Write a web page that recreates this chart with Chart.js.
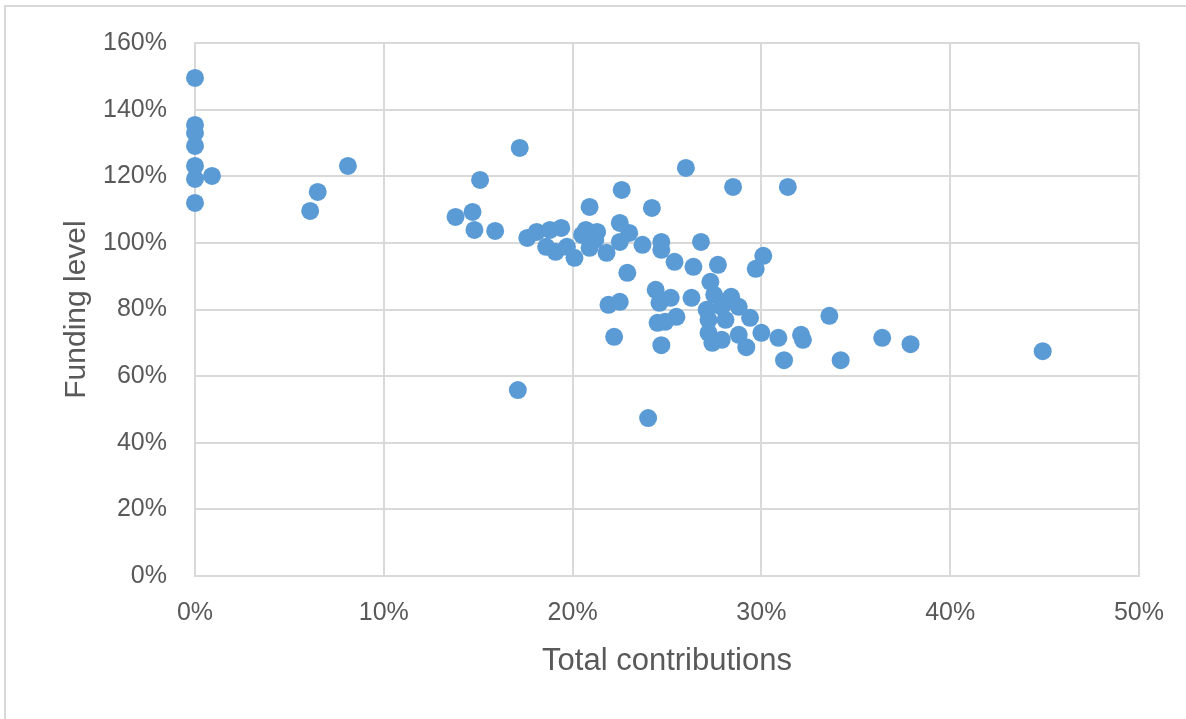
<!DOCTYPE html>
<html>
<head>
<meta charset="utf-8">
<script src="https://cdn.jsdelivr.net/npm/chart.js@4.4.1/dist/chart.umd.min.js"></script>
<style>
  html, body { margin: 0; padding: 0; background: #ffffff; }
  #wrap { position: relative; width: 1186px; height: 719px; overflow: hidden; }
  #marco { position: absolute; left: 4px; top: 5px; width: 1200px; height: 720px;
           border-top: 2px solid #d9d9d9; border-left: 2px solid #d9d9d9; }
  canvas { position: absolute; left: 0; top: 0; }
</style>
</head>
<body>
<div id="wrap">
  <div id="marco"></div>
  <canvas id="grafico" width="1186" height="719"></canvas>
</div>
<script>
// Total contributions (%) por plan
const contribuciones = [
  0, 0, 0, 0, 0, 0, 0, 0.9, 6.1, 6.5, 8.1,
  13.8, 14.7, 14.8, 15.1, 15.9, 17.2, 17.1,
  17.6, 18.1, 18.8, 19.4, 18.6, 19.1, 19.7, 20.1, 20.5, 20.7, 21.3, 20.9, 21.2, 21.8,
  22.5, 22.5, 22.9, 20.9, 22.6, 24.2, 23.0, 23.7, 24.7, 24.7, 26.8,
  25.4, 26.4, 27.7, 21.9, 22.5, 24.4, 25.2, 24.6, 26.3, 24.5, 24.9, 25.5, 22.2, 24.7, 24.0, 26.0,
  27.3, 27.5, 28.4, 27.1, 27.9, 28.8, 29.4, 27.2, 28.1, 27.2, 27.9, 28.8, 29.2, 30.0, 30.9, 27.4,
  28.5, 29.7, 30.1, 31.2, 31.4, 32.1, 32.2, 33.6, 34.2, 36.4, 37.9, 44.9
];

// Funding level (%) por plan
const nivelFinanciacion = [
  149.5, 135.4, 133, 129.1, 123.1, 119.2, 112, 120.1, 109.6, 115.3, 123.1,
  107.8, 109.3, 103.9, 118.9, 103.6, 128.5, 55.8,
  101.5, 103.3, 103.9, 104.5, 98.8, 97.3, 98.8, 95.5, 102.4, 103.9, 103.3, 98.5, 100.9, 97,
  106, 100.3, 91, 110.8, 115.9, 110.5, 103, 99.4, 100.3, 97.9, 100.3,
  94.3, 92.8, 93.4, 81.4, 82.3, 85.9, 83.5, 82, 83.5, 76, 76.3, 77.8, 71.8, 69.3, 47.4, 122.5,
  88.3, 84.4, 83.8, 79.9, 80.8, 80.8, 77.5, 76.9, 76.9, 73, 70.9, 72.4, 68.7, 73, 71.5, 70,
  116.8, 92.2, 96.1, 64.8, 116.8, 72.4, 70.9, 78.1, 64.8, 71.5, 69.6, 67.5
];

const ticksX = [0, 10, 20, 30, 40, 50];
const ticksY = [0, 20, 40, 60, 80, 100, 120, 140, 160];

const fuente = '"Liberation Sans", Arial, sans-serif';
const gris = '#595959';
const lineaGrid = '#d9d9d9';

function dibujarGrafico() {
    const ctx = document.getElementById('grafico').getContext('2d');

    const puntos = contribuciones.map((x, i) => ({ x: x, y: nivelFinanciacion[i] }));

    new Chart(ctx, {
        type: 'scatter',
        data: {
            datasets: [{
                label: 'Funding level',
                data: puntos,
                backgroundColor: '#5b9bd5',
                borderColor: '#5b9bd5',
                borderWidth: 0,
                pointRadius: 9,
                pointHoverRadius: 9,
                clip: false,
            }],
        },
        options: {
            responsive: false,
            animation: false,
            layout: { padding: { top: 43, right: 43, left: 0, bottom: 0 } },
            plugins: {
                legend: { display: false },
                tooltip: { enabled: false },
            },
            scales: {
                x: {
                    type: 'linear',
                    min: 0,
                    max: 50,
                    afterFit: s => { s.height = 143; },
                    afterBuildTicks: s => { s.ticks = ticksX.map(v => ({ value: v })); },
                    grid: { color: lineaGrid, lineWidth: 2, drawTicks: false },
                    border: { color: lineaGrid, width: 2 },
                    ticks: {
                        padding: 22,
                        color: gris,
                        font: { family: fuente, size: 25 },
                        callback: v => v + '%',
                    },
                    title: {
                        display: true,
                        text: 'Total contributions',
                        color: gris,
                        font: { family: fuente, size: 31 },
                        padding: { top: 0, bottom: 39 },
                    },
                },
                y: {
                    type: 'linear',
                    min: 0,
                    max: 160,
                    afterFit: s => { s.width = 195; },
                    afterBuildTicks: s => { s.ticks = ticksY.map(v => ({ value: v })); },
                    grid: { color: lineaGrid, lineWidth: 2, drawTicks: false },
                    border: { color: lineaGrid, width: 2 },
                    ticks: {
                        padding: 28,
                        color: gris,
                        font: { family: fuente, size: 25 },
                        callback: v => v + '%',
                    },
                    title: {
                        display: true,
                        text: 'Funding level',
                        color: gris,
                        font: { family: fuente, size: 30 },
                        padding: { top: 59, bottom: 0 },
                    },
                },
            },
        },
    });
}

dibujarGrafico();
</script>
</body>
</html>
